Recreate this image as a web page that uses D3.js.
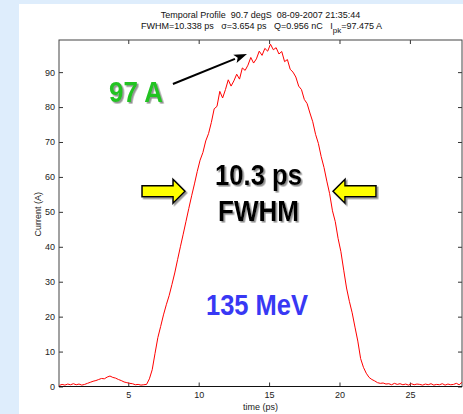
<!DOCTYPE html>
<html>
<head>
<meta charset="utf-8">
<script src="https://cdn.jsdelivr.net/npm/d3@7"></script>
<style>
  html, body { margin: 0; padding: 0; background: #deedfc; }
  svg { display: block; font-family: "Liberation Sans", Arial, Helvetica, sans-serif; }
  text { white-space: pre; }
</style>
</head>
<body>
<svg id="chart" width="463" height="414"></svg>
<script>
// Measured bunch current profile: time (ps) and current (A)
const timePs = [
  0.1, 0.3, 0.5, 0.7, 0.9, 1.1, 1.3, 1.5, 1.7, 1.9,
  2.1, 2.3, 2.5, 2.7, 2.9, 3.1, 3.3, 3.5, 3.7, 3.9,
  4.1, 4.3, 4.5, 4.7, 4.9, 5.1, 5.3, 5.5, 5.7, 5.9,
  6.1, 6.3, 6.5, 6.7, 6.9, 7.1, 7.3, 7.5, 7.7, 7.9,
  8.1, 8.3, 8.5, 8.7, 8.9, 9.1, 9.3, 9.5, 9.7, 9.9,
  10.1, 10.3, 10.5, 10.7, 10.9, 11.1, 11.3, 11.5, 11.7, 11.9,
  12.1, 12.3, 12.5, 12.7, 12.9, 13.1, 13.3, 13.5, 13.7, 13.9,
  14.1, 14.3, 14.5, 14.7, 14.9, 15.1, 15.3, 15.5, 15.7, 15.9,
  16.1, 16.3, 16.5, 16.7, 16.9, 17.1, 17.3, 17.5, 17.7, 17.9,
  18.1, 18.3, 18.5, 18.7, 18.9, 19.1, 19.3, 19.5, 19.7, 19.9,
  20.1, 20.3, 20.5, 20.7, 20.9, 21.1, 21.3, 21.5, 21.7, 21.9,
  22.1, 22.3, 22.5, 22.7, 22.9, 23.1, 23.3, 23.5, 23.7, 23.9,
  24.1, 24.3, 24.5, 24.7, 24.9, 25.1, 25.3, 25.5, 25.7, 25.9,
  26.1, 26.3, 26.5, 26.7, 26.9, 27.1, 27.3, 27.5, 27.7, 27.9,
  28.1, 28.3, 28.5, 28.7
];
const currentA = [
  0.3, 0.6, 0.4, 0.7, 0.5, 0.8, 0.5, 0.7, 0.4, 0.6,
  0.9, 1.2, 1.5, 1.7, 2.0, 2.3, 2.2, 2.7, 3.0, 2.6,
  2.4, 2.0, 1.7, 1.3, 1.1, 0.9, 0.8, 0.5, 0.6, 0.4,
  0.5, 0.6, 2.2, 4.8, 9.5, 14.0, 17.2, 20.5, 23.4, 26.0,
  29.2, 32.5, 36.3, 40.0, 43.6, 47.3, 51.0, 54.6, 58.0, 61.6,
  64.8, 67.0, 70.3, 72.4, 75.6, 79.5, 80.2, 84.5, 82.6, 85.0,
  87.8, 86.0, 87.5, 89.4, 88.0, 91.2, 90.5, 92.0, 94.2, 92.6,
  93.8, 96.0, 94.8, 96.8, 96.0, 98.0, 96.4, 97.0, 95.2, 95.9,
  93.0, 93.6, 90.8, 90.0, 88.6, 86.0, 85.0, 82.2, 81.0, 78.3,
  75.8, 72.2, 69.6, 65.8, 62.7, 58.8, 55.2, 50.3, 47.2, 42.4,
  38.6, 33.3, 28.2, 24.4, 21.1, 17.0, 13.0, 8.0, 5.5, 3.8,
  2.6, 2.0, 1.6, 1.1, 0.9, 1.0, 0.7, 0.8, 0.5, 0.9,
  0.6, 0.8, 0.5, 0.7, 0.4, 0.8, 0.5, 0.7, 0.6, 0.4,
  0.7, 0.5, 0.8, 0.4, 0.6, 0.5, 0.8, 0.4, 0.7, 0.5,
  0.6, 0.9, 0.5, 1.2
];
const xTicks = [5, 10, 15, 20, 25];
const yTicks = [0, 10, 20, 30, 40, 50, 60, 70, 80, 90];
const xDomain = [0.08, 28.7];
const yDomain = [0, 99.2];

const titleLine1 = "Temporal Profile  90.7 degS  08-09-2007 21:35:44";
const titleLine2 = ["FWHM=10.338 ps   \u03c3=3.654 ps   Q=0.956 nC   I", "pk", "=97.475 A"];
const xLabel = "time (ps)";
const yLabel = "Current (A)";

// Annotations placed in data units (time ps, current A)
const peakNote = { text: "97 A", t: 3.63, a: 81.4, width: 54 };
const peakArrow = { from: [8.17, 86.6], to: [13.43, 95.2] };
const widthNote = [
  { text: "10.3 ps", t: 14.25, a: 57.7, width: 87 },
  { text: "FWHM", t: 14.25, a: 47.4, width: 81 }
];
const energyNote = { text: "135 MeV", t: 14.14, a: 20.5, width: 102 };
const fwhmArrows = [
  { tip: [9.03, 55.9], dir: 1 },
  { tip: [19.54, 55.9], dir: -1 }
];

const svg = d3.select("#chart");

const defs = svg.append("defs");
const shadow = defs.append("filter").attr("id", "shadow")
  .attr("x", "-10%").attr("y", "-10%").attr("width", "130%").attr("height", "130%");
shadow.append("feDropShadow")
  .attr("dx", 1.6).attr("dy", 1.6).attr("stdDeviation", 0.7)
  .attr("flood-color", "#777").attr("flood-opacity", 0.8);

// white figure panel
svg.append("rect").attr("x", 19).attr("y", 4).attr("width", 444).attr("height", 410).attr("fill", "#fff");

const plot = { left: 59, right: 462, top: 40, bottom: 386.5 };
const x = d3.scaleLinear().domain(xDomain).range([plot.left, plot.right]);
const y = d3.scaleLinear().domain(yDomain).range([plot.bottom, plot.top]);

const axisColor = "#333";
function styleAxis(g) {
  g.select(".domain").remove();
  g.selectAll(".tick line").attr("stroke", axisColor);
  g.selectAll(".tick text").attr("fill", "#222").attr("font-size", 9);
}

svg.append("g").attr("transform", `translate(0,${plot.bottom})`)
  .call(d3.axisBottom(x).tickValues(xTicks).tickSizeInner(-4).tickSizeOuter(0).tickPadding(5).tickFormat(d3.format("d")))
  .call(styleAxis);
svg.append("g").attr("transform", `translate(0,${plot.top})`)
  .call(d3.axisTop(x).tickValues(xTicks).tickSizeInner(-4).tickSizeOuter(0).tickFormat(""))
  .call(styleAxis);
svg.append("g").attr("transform", `translate(${plot.left},0)`)
  .call(d3.axisLeft(y).tickValues(yTicks).tickSizeInner(-4).tickSizeOuter(0).tickPadding(4).tickFormat(d3.format("d")))
  .call(styleAxis);
svg.append("g").attr("transform", `translate(${plot.right},0)`)
  .call(d3.axisRight(y).tickValues(yTicks).tickSizeInner(-4).tickSizeOuter(0).tickFormat(""))
  .call(styleAxis);

svg.append("rect")
  .attr("x", plot.left).attr("y", plot.top)
  .attr("width", plot.right - plot.left).attr("height", plot.bottom - plot.top)
  .attr("fill", "none").attr("stroke", "#444").attr("stroke-width", 1);
svg.append("line")
  .attr("x1", plot.left).attr("x2", plot.right)
  .attr("y1", plot.bottom).attr("y2", plot.bottom)
  .attr("stroke", "#111").attr("stroke-width", 1.2);

// current profile
const points = timePs.map((t, i) => [t, currentA[i]]);
svg.append("path")
  .datum(points)
  .attr("fill", "none").attr("stroke", "#ff0000").attr("stroke-width", 1)
  .attr("d", d3.line().x(d => x(d[0])).y(d => y(d[1])));

// titles and axis labels
svg.append("text").attr("x", (plot.left + plot.right) / 2).attr("y", 18)
  .attr("text-anchor", "middle").attr("font-size", 9).attr("fill", "#111")
  .text(titleLine1);
const t2 = svg.append("text").attr("x", (plot.left + plot.right) / 2 + 1).attr("y", 28.5)
  .attr("text-anchor", "middle").attr("font-size", 9).attr("fill", "#111");
t2.append("tspan").text(titleLine2[0]);
t2.append("tspan").attr("dy", 4).attr("font-size", 8).text(titleLine2[1]);
t2.append("tspan").attr("dy", -4).text(titleLine2[2]);

svg.append("text").attr("x", (plot.left + plot.right) / 2).attr("y", 410)
  .attr("text-anchor", "middle").attr("font-size", 9).attr("fill", "#222").text(xLabel);
svg.append("text")
  .attr("transform", `translate(41,${(plot.top + plot.bottom) / 2 + 1}) rotate(-90)`)
  .attr("text-anchor", "middle").attr("font-size", 9).attr("fill", "#222").text(yLabel);

// annotation text
function bigText(note, anchor, color, useShadow) {
  const el = svg.append("text")
    .attr("x", anchor === "middle" ? x(note.t) - note.width / 2 : x(note.t))
    .attr("y", y(note.a))
    .attr("font-size", 30).attr("font-weight", "bold").attr("fill", color)
    .attr("textLength", note.width).attr("lengthAdjust", "spacingAndGlyphs")
    .text(note.text);
  if (useShadow) el.attr("filter", "url(#shadow)");
  return el;
}
bigText(peakNote, "start", "#22c322", true);
widthNote.forEach(n => bigText(n, "middle", "#000", true));
bigText(energyNote, "middle", "#3838f4", false);

// arrow to the peak
const [ax0, ay0] = [x(peakArrow.from[0]), y(peakArrow.from[1])];
const [ax1, ay1] = [x(peakArrow.to[0]), y(peakArrow.to[1])];
const ang = Math.atan2(ay1 - ay0, ax1 - ax0);
const headLen = 13, headHalf = 4.5;
const bx = ax1 - headLen * Math.cos(ang), by = ay1 - headLen * Math.sin(ang);
svg.append("line")
  .attr("x1", ax0).attr("y1", ay0).attr("x2", bx).attr("y2", by)
  .attr("stroke", "#000").attr("stroke-width", 2);
svg.append("path")
  .attr("d", d3.line()([
    [ax1, ay1],
    [bx + headHalf * Math.sin(ang), by - headHalf * Math.cos(ang)],
    [bx + 3 * Math.cos(ang), by + 3 * Math.sin(ang)],
    [bx - headHalf * Math.sin(ang), by + headHalf * Math.cos(ang)]
  ]) + "Z")
  .attr("fill", "#000");

// yellow block arrows marking the FWHM edges
fwhmArrows.forEach(a => {
  const tx = x(a.tip[0]), ty = y(a.tip[1]);
  const d = a.dir;
  const outline = [
    [0, 0], [-12, -12], [-12, -5.5], [-43, -5.5], [-43, 5.5], [-12, 5.5], [-12, 12]
  ].map(([px, py]) => [tx + d * px, ty + py]);
  svg.append("path")
    .attr("d", d3.line()(outline) + "Z")
    .attr("fill", "#ffff00").attr("stroke", "#000").attr("stroke-width", 1.5)
    .attr("stroke-linejoin", "miter")
    .attr("filter", "url(#shadow)");
});
</script>
</body>
</html>
